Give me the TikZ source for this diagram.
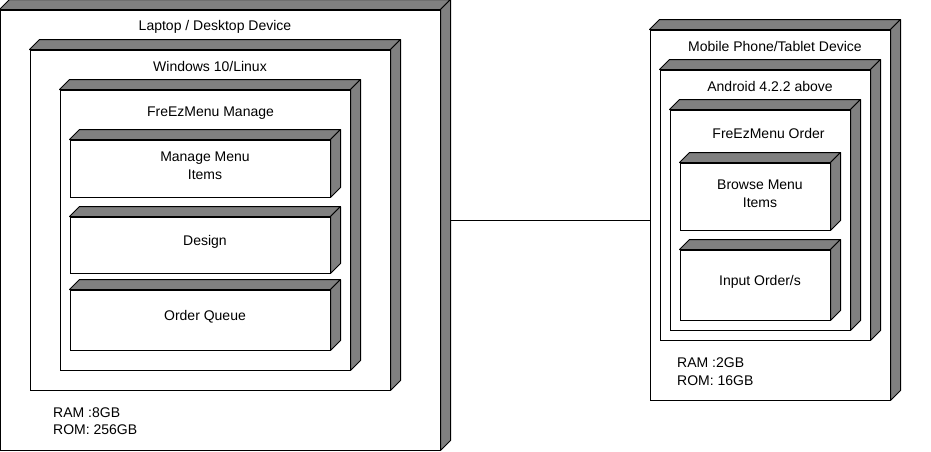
\documentclass[tikz,border=0pt]{standalone}
\usepackage{fontspec}
\setmainfont{Liberation Sans}
\usetikzlibrary{positioning}

\definecolor{sidegray}{RGB}{128,128,128}

% front face plus the top and right faces of a 3d box
\newcommand{\boxfaces}[1]{%
    \draw [side] (#1.north west) -- ++(10,-10) -- ([shift={(10,-10)}]#1.north east) -- (#1.north east) -- cycle;
    \draw [side] (#1.north east) -- ++(10,-10) -- ([shift={(10,-10)}]#1.south east) -- (#1.south east) -- cycle;
}

\begin{document}
\begin{tikzpicture}[
    x=1pt, y=-1pt,
    every node/.style={font=\fontsize{14}{17.5}\selectfont},
    front/.style={draw,fill=white,inner sep=0pt,line width=1pt},
    side/.style={draw,fill=sidegray,line width=1pt,line join=round},
    title/.style={inner sep=0pt,anchor=center,yshift=-1.5pt},
    spec/.style={inner sep=0pt,anchor=west,align=left,yshift=-1pt},
]
    \useasboundingbox (0,0) rectangle (931,451);

    % laptop side
    \node [front,minimum width=440pt,minimum height=440pt] (laptop) at (220,230) {};
    \boxfaces{laptop}
    \node [title] (laptopT) at (215,25) {Laptop / Desktop Device};

    \node [front,minimum width=360pt,minimum height=340pt] (win) at (210,220) {};
    \boxfaces{win}
    \node [title] (winT) at (210,65) {Windows 10/Linux};

    \node [front,minimum width=290pt,minimum height=280pt] (manage) at (205,230) {};
    \boxfaces{manage}
    \node [title] (manageT) at (210.5,112) {FreEzMenu Manage};

    \node [front,minimum width=260pt,minimum height=57pt] (items) at (200,168.5) {};
    \boxfaces{items}
    \node [title,align=center] (itemsT) at (205,164) {Manage Menu\\Items};

    \node [front,minimum width=260pt,minimum height=56pt] (design) at (200,245) {};
    \boxfaces{design}
    \node [title] (designT) at (205,240) {Design};

    \node [front,minimum width=260pt,minimum height=60pt] (queue) at (200,320) {};
    \boxfaces{queue}
    \node [title] (queueT) at (205,315) {Order Queue};

    \node [spec] (laptopSpec) at (53,420) {RAM :8GB\\ROM: 256GB};

    % mobile side
    \node [front,minimum width=240pt,minimum height=370pt] (mobile) at (770,215) {};
    \boxfaces{mobile}
    \node [title] (mobileT) at (775,45) {Mobile Phone/Tablet Device};

    \node [front,minimum width=210pt,minimum height=270pt] (android) at (765,205) {};
    \boxfaces{android}
    \node [title] (androidT) at (770,85) {Android 4.2.2 above};

    \node [front,minimum width=180pt,minimum height=220pt] (order) at (760,220) {};
    \boxfaces{order}
    \node [title] (orderT) at (768.5,132) {FreEzMenu Order};

    \node [front,minimum width=150pt,minimum height=67pt] (browse) at (755,196.5) {};
    \boxfaces{browse}
    \node [title,align=center] (browseT) at (760,192) {Browse Menu\\Items};

    \node [front,minimum width=150pt,minimum height=70pt] (input) at (755,285) {};
    \boxfaces{input}
    \node [title] (inputT) at (760,280) {Input Order/s};

    \node [spec] (mobileSpec) at (677,370.5) {RAM :2GB\\ROM: 16GB};

    % link
    \coordinate (lapport) at ([shift={(10,-10)}]laptop.east);
    \draw [line width=1pt] (lapport) -- (lapport -| mobile.west);

\end{tikzpicture}
\end{document}
